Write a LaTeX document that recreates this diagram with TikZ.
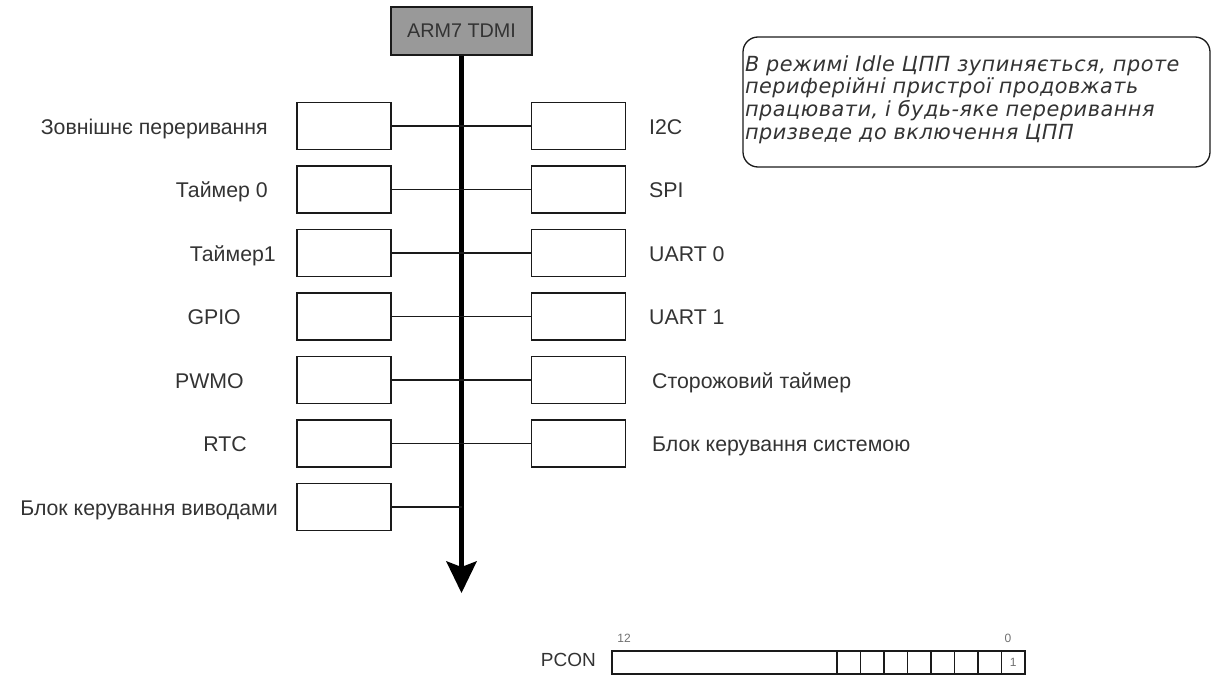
\documentclass[tikz,border=0pt]{standalone}
\usepackage{fontspec}
\setmainfont{Liberation Sans}
\newfontfamily\notefont[LetterSpace=2.5]{DejaVu Sans}
\definecolor{txt}{HTML}{333333}
\definecolor{edge}{HTML}{1A1A1A}
\definecolor{cpu}{HTML}{999999}
\begin{document}
\begin{tikzpicture}[x=1pt,y=-1pt,
  lbl/.style={text=txt, font=\fontsize{21.3}{25}\selectfont, inner sep=0pt, anchor=base},
  unit/.style={draw=edge, line width=1.3pt, minimum width=94pt, minimum height=47pt, inner sep=0pt},
  link/.style={draw=edge, line width=1.3pt},
  cell/.style={draw=edge, line width=1.1pt, minimum width=23.5pt, minimum height=23pt, inner sep=0pt,
    text=txt!70, font=\fontsize{12}{14}\selectfont},
  bitno/.style={text=txt!70, font=\fontsize{12}{14}\selectfont, inner sep=0pt}
]
\useasboundingbox (0,0) rectangle (1211,680);

% processor core and its bus
\node[draw=edge, line width=1.3pt, fill=cpu, minimum width=141pt, minimum height=48pt, inner sep=0pt,
  text=txt, font=\fontsize{19.8}{23}\selectfont] (arm) at (461.5,31) {ARM7 TDMI};
\coordinate (busend) at (461.5,567);
\coordinate (bustip) at (461.5,593);
\draw[line width=5pt, draw=black] (arm.south) -- (busend);
\fill[black] (bustip) -- ++(-15.5,-32) -- ++(15.5,6) -- ++(15.5,-6) -- cycle;

% peripheral blocks, left column
\foreach \n/\y in {1/126,2/189.5,3/253,4/316.5,5/380,6/443.5,7/507}
  \node[unit] (L\n) at (344,\y) {};
% peripheral blocks, right column
\foreach \n/\y in {1/126,2/189.5,3/253,4/316.5,5/380,6/443.5}
  \node[unit] (R\n) at (578.5,\y) {};

% bus connections
\foreach \n in {1,...,6}
  \draw[link] (L\n.east) -- (R\n.west);
\draw[link] (L7.east) -- (L7.east -| arm.south);

% left labels
\node[lbl, anchor=base east] (tL1) at (268,134) {Зовнішнє переривання};
\node[lbl, anchor=base east] (tL2) at (268,197.5) {Таймер 0};
\node[lbl, anchor=base east] (tL3) at (276,261) {Таймер1};
\node[lbl, anchor=base east] (tL4) at (241,324.5) {GPIO};
\node[lbl, anchor=base east] (tL5) at (244,388) {PWMO};
\node[lbl, anchor=base east] (tL6) at (247,451.5) {RTC};
\node[lbl, anchor=base east] (tL7) at (278,515) {Блок керування виводами};

% right labels
\node[lbl, anchor=base west] (tR1) at (649,134) {I2C};
\node[lbl, anchor=base west] (tR2) at (649,197.5) {SPI};
\node[lbl, anchor=base west] (tR3) at (649,261) {UART 0};
\node[lbl, anchor=base west] (tR4) at (649,324.5) {UART 1};
\node[lbl, anchor=base west] (tR5) at (652,388) {Сторожовий таймер};
\node[lbl, anchor=base west] (tR6) at (652,451.5) {Блок керування системою};

% note
\node[draw=edge, line width=1.3pt, rounded corners=15pt, minimum width=467pt, minimum height=130pt,
  inner xsep=2pt, inner ysep=0pt, text width=463pt, align=left, text=txt,
  font=\notefont\itshape\fontsize{20.8}{22.7}\selectfont] (note) at (976.5,102)
  {В режимі Idle ЦПП зупиняється, проте\\
   периферійні пристрої продовжать\\
   працювати, і будь-яке переривання\\
   призведе до включення ЦПП\vspace{5pt}};

% power control register
\node[draw=edge, line width=1.1pt, minimum width=413pt, minimum height=23pt, inner sep=0pt] (pcon) at (818.5,662.5) {};
\foreach \i in {0,...,6}
  \node[cell] (b\i) at ({837+23.5*(\i+0.5)},662.5) {};
\node[cell] (b7) at ({837+23.5*7.5},662.5) {1};
\node[lbl, anchor=east, font=\fontsize{19}{22}\selectfont] (pconlbl) at (596,660) {PCON};
\node[bitno] (hi) at (624,638.5) {12};
\node[bitno] (lo) at (1008,638.5) {0};
\end{tikzpicture}
\end{document}
